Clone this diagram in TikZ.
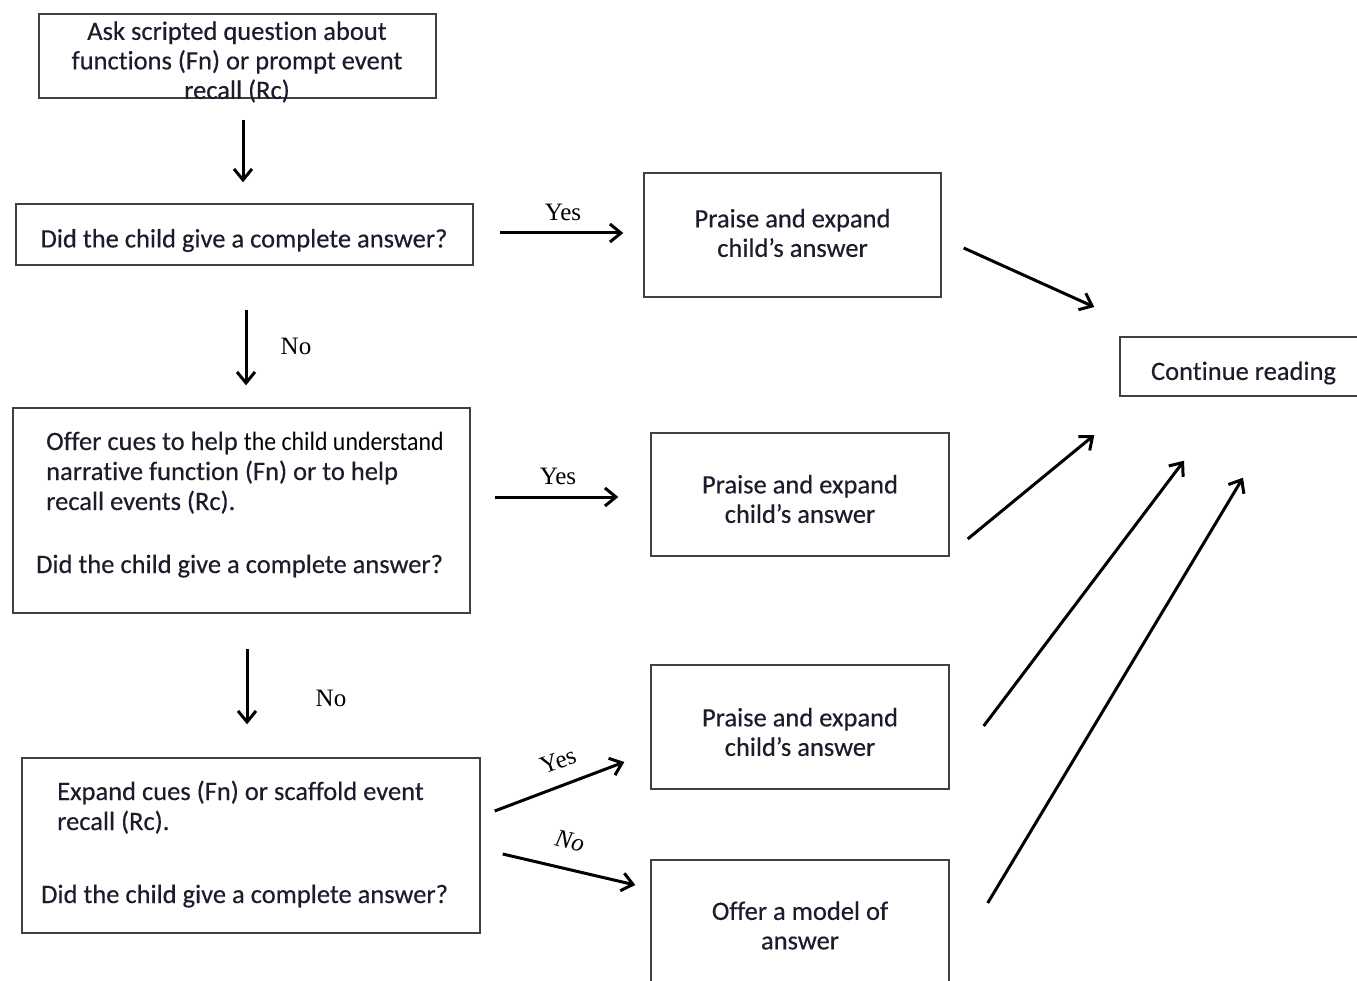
\documentclass[tikz,border=0pt]{standalone}
\usepackage{fontspec}
\setmainfont{Carlito}[FakeBold=0.35,Ligatures=NoCommon]
\newfontfamily\ynfont{Liberation Serif}
\newfontfamily\narrowf[FakeStretch=0.9,Ligatures=NoCommon]{Carlito}
\usetikzlibrary{arrows.meta,calc}
\definecolor{txt}{RGB}{28,28,44}
\begin{document}
\begin{tikzpicture}[x=1pt,y=-1pt,
  box/.style={draw=black!75, line width=1.4pt, rectangle, inner sep=0pt},
  t/.style={font=\fontsize{26.5}{29.5}\selectfont, text=txt, align=center, inner sep=0pt},
  yn/.style={font=\ynfont\fontsize{25}{25}\selectfont, inner sep=0pt},
  arr/.style={line width=3pt, -{Straight Barb[length=11pt,width=18pt]}}]
\useasboundingbox (0,0) rectangle (1357,981);
\clip (0,0) rectangle (1357,981);

% boxes
\node[box, minimum width=397pt, minimum height=84pt] (A) at (237.5,56) {};
\node[t] (At) at (237,62) {Ask scripted question about\\functions (Fn) or prompt event\\recall (Rc)};

\node[box, minimum width=457pt, minimum height=61pt] (B) at (244.5,234.5) {};
\node[t] (Bt) at (244,240.5) {Did the child give a complete answer?};

\node[box, minimum width=457pt, minimum height=205pt] (C) at (241.5,510.5) {};
\node[t, anchor=base west] (C1) at (46,450) {Offer cues to help {\narrowf\color{black}the child understand}};
\node[t, anchor=base west] (C2) at (46,480) {narrative function (Fn) or to help};
\node[t, anchor=base west] (C3) at (46,510) {recall events (Rc).};
\node[t, anchor=base west] (C4) at (36,573) {Did the child give a complete answer?};

\node[box, minimum width=458pt, minimum height=175pt] (D) at (251,845.5) {};
\node[t, anchor=base west] (D1) at (57,800) {Expand cues (Fn) or scaffold event};
\node[t, anchor=base west] (D2) at (57,830) {recall (Rc).};
\node[t, anchor=base west] (D3) at (41,903) {Did the child give a complete answer?};

\node[box, minimum width=297pt, minimum height=124pt] (P1) at (792.5,235) {};
\node[t] (P1t) at (792.5,233) {Praise and expand\\child’s answer};
\node[box, minimum width=298pt, minimum height=123pt] (P2) at (800,494.5) {};
\node[t] (P2t) at (800,499) {Praise and expand\\child’s answer};
\node[box, minimum width=298pt, minimum height=124pt] (P3) at (800,727) {};
\node[t] (P3t) at (800,732) {Praise and expand\\child’s answer};
\node[box, minimum width=298pt, minimum height=130pt] (M) at (800,925) {};
\node[t] (Mt) at (800,925.5) {Offer a model of\\answer};
\node[box, minimum width=247pt, minimum height=59pt] (CR) at (1243.5,366.5) {};
\node[t] (CRt) at (1243.5,373) {Continue reading};

% vertical arrows
\draw[arr] ($(A.south)+(5.5,21)$) -- ($(B.north)+(-1.5,-21)$);
\draw[arr] ($(B.south)+(1.5,44)$) -- ($(C.north)+(4.5,-22)$);
\draw[arr] ($(C.south)+(5.5,35)$) -- ($(D.north)+(-4,-33)$);
% to praise boxes
\draw[arr] ($(B.east)+(26,-1.5)$) -- ($(P1.west)+(-20,-2)$);
\draw[arr] ($(C.east)+(24,-13.5)$) -- ($(P2.west)+(-32,2.5)$);
\draw[arr] ($(D.east)+(14,-34.5)$) -- ($(P3.west)+(-26,35)$);
\draw[arr] ($(D.east)+(22,8.5)$) -- ($(M.west)+(-15,-40)$);
% to continue reading
\draw[arr] ($(P1.east)+(22,13)$) -- ($(CR.west)+(-25,-59.5)$);
\draw[arr] ($(P2.east)+(18,44.5)$) -- ($(CR.west)+(-25,68.5)$);
\draw[arr] ($(P3.east)+(34,-1)$) -- ($(CR.south)+(-59.5,64)$);
\draw[arr] ($(M.east)+(38,-22)$) -- ($(CR.south)+(-0.5,81)$);

% labels
\node[yn] (y1) at (563,212) {Yes};
\node[yn] (y2) at (558,476) {Yes};
\node[yn] (n1) at (296,346) {No};
\node[yn] (n2) at (331,698) {No};
\node[yn, rotate=20] (y3) at (558,761) {Yes};
\node[yn, rotate=-13, font=\ynfont\itshape\fontsize{25}{25}\selectfont] (n3) at (570,841) {No};
\end{tikzpicture}
\end{document}
